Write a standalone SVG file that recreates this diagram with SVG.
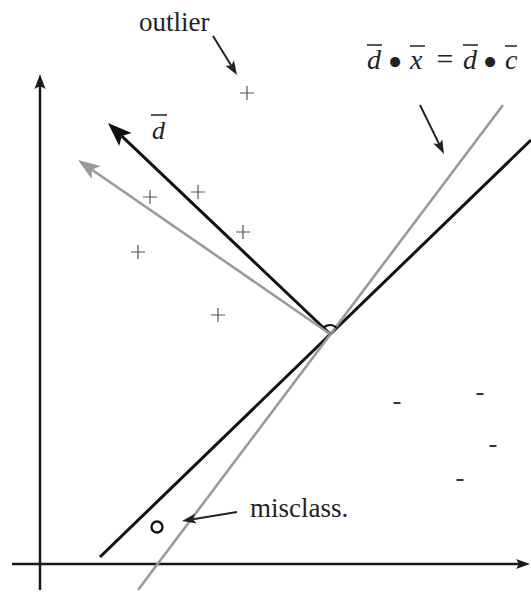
<svg xmlns="http://www.w3.org/2000/svg" width="531" height="592" viewBox="0 0 531 592">
<style>
.txt{font-family:"Liberation Serif","Times New Roman",serif;fill:#222}
.it{font-style:italic}
.ax{stroke:#1a1a1a;stroke-width:2.5;fill:none}
.blk{stroke:#111;stroke-width:3;fill:none}
.gry{stroke:#9a9a9a;stroke-width:2.6;fill:none}
.thin{stroke:#222;stroke-width:2;fill:none}
.plus{stroke:#555;stroke-width:1.2}
.minus{fill:#333}
.bar{stroke:#222;stroke-width:1.5}
</style>
<rect width="531" height="592" fill="#fff"/>
<g id="axes">
  <line class="ax" x1="40" y1="590" x2="40" y2="86"/>
  <polygon points="40,74 45.5,89 40,86 34.5,89" fill="#1a1a1a"/>
  <line class="ax" x1="12" y1="564" x2="519" y2="564"/>
  <polygon points="530,564 516,569 519,564 516,559" fill="#1a1a1a"/>
</g>
<g id="connectors">
  <line id="boundary" class="blk" x1="100" y1="557" x2="531" y2="140"/>
  <line id="gray-boundary" class="gry" x1="138" y1="590" x2="503" y2="105"/>
  <line class="blk" x1="330" y1="334" x2="121.8" y2="136.1"/>
  <polygon points="108,123 131.6,133 121.8,136.1 119.2,146" fill="#111"/>
  <line class="gry" x1="330" y1="334" x2="92" y2="169.7"/>
  <polygon points="78,160 100.6,165.9 92,169.7 91.6,179.1" fill="#9a9a9a"/>
  <path d="M323.5,328 A9,9 0 0 1 336.5,327.8" stroke="#111" stroke-width="2" fill="none"/>
  <line class="thin" x1="213" y1="36" x2="231.2" y2="65.6"/>
  <polygon points="237,75 225.4,65.7 231.2,65.6 234,60.5" fill="#222"/>
  <line class="thin" x1="420" y1="105" x2="439.2" y2="144.1"/>
  <polygon points="444,154 433.3,143.6 439.2,144.1 442.3,139.2" fill="#222"/>
  <line class="thin" x1="237" y1="512" x2="192.9" y2="519.2"/>
  <polygon points="182,521 195,513.8 192.9,519.2 196.6,523.6" fill="#222"/>
</g>
<g id="plus-points">
  <path class="plus" d="M240,93h14M247,86v14 M143,197h14M150,190v14 M191,192h14M198,185v14 M236,232h14M243,225v14 M131,252h14M138,245v14 M211,315h14M218,308v14"/>
</g>
<g id="minus-points">
  <rect class="minus" x="393.5" y="402" width="7" height="2"/>
  <rect class="minus" x="476.5" y="393" width="7" height="2"/>
  <rect class="minus" x="489.5" y="445" width="7" height="2"/>
  <rect class="minus" x="456.5" y="479" width="7" height="2"/>
</g>
<g id="misclassified">
  <circle cx="157" cy="527" r="5.5" stroke="#111" stroke-width="2.3" fill="none"/>
</g>
<g id="labels">
  <text class="txt" x="139" y="31" font-size="27">outlier</text>
  <text class="txt" x="250" y="517" font-size="27">misclass.</text>
  <text class="txt it" x="152" y="139" font-size="26">d</text>
  <line class="bar" x1="151" y1="115" x2="167" y2="115"/>
</g>
<g id="equation">
  <text class="txt it" x="367" y="69" font-size="28">d</text>
  <text class="txt" x="395" y="75.5" font-size="42" text-anchor="middle">•</text>
  <text class="txt it" x="410" y="69" font-size="28">x</text>
  <text class="txt" x="445" y="69" font-size="30" text-anchor="middle">=</text>
  <text class="txt it" x="463" y="69" font-size="28">d</text>
  <text class="txt" x="490" y="75.5" font-size="42" text-anchor="middle">•</text>
  <text class="txt it" x="505" y="69" font-size="28">c</text>
  <line class="bar" x1="367" y1="45" x2="382" y2="45"/>
  <line class="bar" x1="410" y1="46" x2="425" y2="46"/>
  <line class="bar" x1="463" y1="45" x2="478" y2="45"/>
  <line class="bar" x1="505" y1="46" x2="517" y2="46"/>
</g>
</svg>
